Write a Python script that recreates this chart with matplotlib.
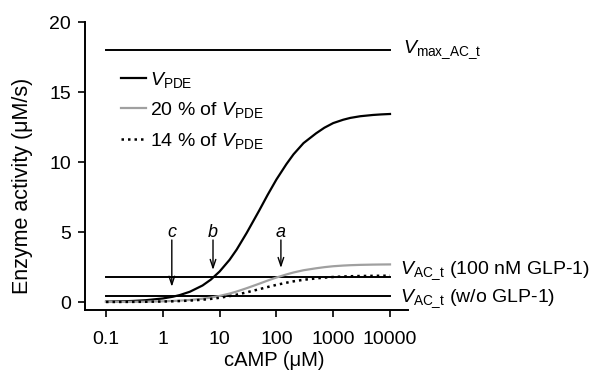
import matplotlib.pyplot as plt

plt.rcParams['font.family'] = ['Liberation Sans', 'DejaVu Sans']
plt.rcParams['mathtext.fontset'] = 'custom'
plt.rcParams['mathtext.rm'] = 'Liberation Sans'
plt.rcParams['mathtext.it'] = 'Liberation Sans:italic'

# cAMP concentrations (uM) and enzyme activity (uM/s)
camp = [0.1, 0.2, 0.3, 0.5, 1, 1.5, 2, 3, 5, 7, 10, 15, 20, 30, 50, 70, 100,
        150, 200, 300, 500, 700, 1000, 1500, 2000, 3000, 5000, 7000, 10000]
v_pde = [0.026, 0.052, 0.077, 0.129, 0.255, 0.378, 0.50, 0.736, 1.18, 1.60,
         2.18, 3.02, 3.75, 4.94, 6.55, 7.65, 8.75, 9.85, 10.55, 11.35, 12.05,
         12.45, 12.78, 13.02, 13.15, 13.27, 13.36, 13.40, 13.43]
v_pde_20 = [0.005, 0.010, 0.015, 0.026, 0.051, 0.076, 0.10, 0.147, 0.236, 0.32,
            0.436, 0.604, 0.75, 0.988, 1.31, 1.53, 1.75, 1.97, 2.11, 2.27,
            2.41, 2.49, 2.556, 2.604, 2.63, 2.654, 2.672, 2.68, 2.686]
v_pde_14 = [0.004, 0.007, 0.011, 0.018, 0.036, 0.053, 0.07, 0.103, 0.165, 0.224,
            0.305, 0.423, 0.525, 0.692, 0.917, 1.071, 1.225, 1.379, 1.477, 1.589,
            1.687, 1.743, 1.789, 1.823, 1.841, 1.858, 1.870, 1.876, 1.880]

# horizontal AC levels
vmax_ac = 18.0
v_ac_glp1 = 1.8
v_ac_none = 0.4
line_span = [0.1, 10000]

# arrows: label, x position, arrow tip y
arrow_labels = ['c', 'b', 'a']
arrow_x = [1.44, 7.65, 120]
arrow_tip = [1.09, 2.29, 2.43]

fig = plt.figure(figsize=(5.92, 3.84), dpi=100)
ax = fig.add_axes([0.1436, 0.1927, 0.5456, 0.75])

ax.plot(line_span, [vmax_ac, vmax_ac], color='black', lw=1.4)
ax.plot(line_span, [v_ac_glp1, v_ac_glp1], color='black', lw=1.4)
ax.plot(line_span, [v_ac_none, v_ac_none], color='black', lw=1.4)

ax.plot(camp, v_pde, color='black', lw=1.6, label='$V_{\\mathrm{PDE}}$')
ax.plot(camp, v_pde_20, color='#a0a0a0', lw=1.6, label='20 % of $V_{\\mathrm{PDE}}$')
ax.plot(camp, v_pde_14, color='black', lw=1.8, ls=(0, (1, 1.6)),
        label='14 % of $V_{\\mathrm{PDE}}$')

for lab, x, tip in zip(arrow_labels, arrow_x, arrow_tip):
    ax.annotate('', xy=(x, tip), xytext=(x, 4.43),
                arrowprops=dict(arrowstyle='->,head_length=0.6,head_width=0.2',
                                lw=1.0, color='black', shrinkA=0, shrinkB=0))
    ax.text(x, 4.64, lab, style='italic', fontsize=13, ha='center', va='baseline')

ax.text(17000, 17.8, '$V_{\\mathrm{max\\_AC\\_t}}$', fontsize=14,
        ha='left', va='baseline', clip_on=False)
ax.text(15000, 2.0, '$V_{\\mathrm{AC\\_t}}$ (100 nM GLP-1)', fontsize=14,
        ha='left', va='baseline', clip_on=False)
ax.text(15000, 0.0, '$V_{\\mathrm{AC\\_t}}$ (w/o GLP-1)', fontsize=14,
        ha='left', va='baseline', clip_on=False)

ax.set_xscale('log')
ax.set_xlim(10 ** -1.37, 10 ** 4.317)
ax.set_ylim(-0.57, 20)
ax.set_xticks([0.1, 1, 10, 100, 1000, 10000])
ax.set_xticklabels(['0.1', '1', '10', '100', '1000', '10000'])
ax.minorticks_off()
ax.set_yticks([0, 5, 10, 15, 20])
ax.tick_params(labelsize=14, width=1.2, length=5)
ax.tick_params(axis='x', pad=10)
ax.tick_params(axis='y', pad=5)
ax.spines['top'].set_visible(False)
ax.spines['right'].set_visible(False)
ax.spines['left'].set_linewidth(1.4)
ax.spines['bottom'].set_linewidth(1.4)
ax.set_xlabel('cAMP (μM)', fontsize=14.5)
ax.set_ylabel('Enzyme activity (μM/s)', fontsize=15.5)
ax.xaxis.set_label_coords(0.585, -0.142)
ax.yaxis.set_label_coords(-0.161, 0.43)

ax.legend(loc='upper left', bbox_to_anchor=(0.111, 0.835), frameon=False,
          fontsize=14, handlelength=1.3, handletextpad=0.2, labelspacing=0.55,
          borderpad=0, borderaxespad=0)

fig.savefig('out.png', dpi=100)
